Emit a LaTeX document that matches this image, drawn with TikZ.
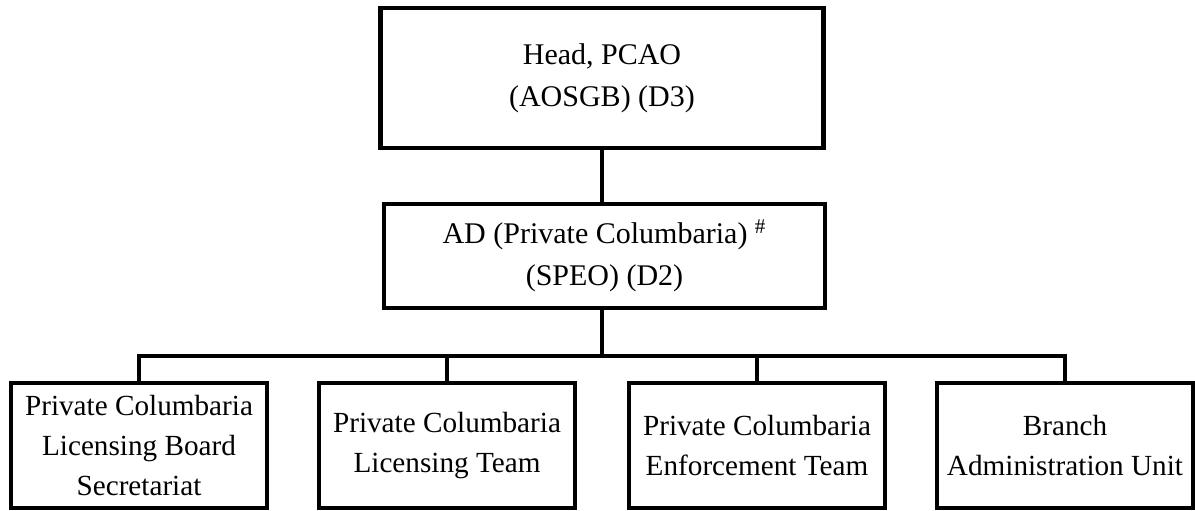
\documentclass[tikz,border=0pt]{standalone}
\usepackage{fontspec}
\setmainfont{Liberation Serif}
\usepackage{tikz}
\usetikzlibrary{positioning}

\begin{document}
\begin{tikzpicture}[
  x=0.5pt, y=-0.5pt,
  line width=2.25pt,
  line join=miter,
  every node/.style={
    draw,
    rectangle,
    align=center,
    line width=2.25pt,
    font=\fontsize{15}{21}\selectfont
  },
  unit/.style={
    minimum width=128pt,
    minimum height=62.5pt,
    font=\fontsize{14.6}{20}\selectfont
  }
]
\useasboundingbox (0,0) rectangle (1195,510);

\node[minimum width=221.5pt, minimum height=70pt] (head) at (602,78)
{Head, PCAO\\(AOSGB) (D3)};

\node[minimum width=220.5pt, minimum height=52pt] (ad) at (604.5,256)
{AD (Private Columbaria) \textsuperscript{\#}\\(SPEO) (D2)};

\node[unit] (b1) at (139,445.5) {Private Columbaria\\Licensing Board\\Secretariat};
\node[unit] (b2) at (447,445.5) {Private Columbaria\\Licensing Team};
\node[unit] (b3) at (757,445.5) {Private Columbaria\\Enforcement Team};
\node[unit] (b4) at (1065,445.5) {Branch\\Administration Unit};

\coordinate (bus) at (602,356);

\draw (head.south) -- (head.south |- ad.north);
\draw (head.south |- ad.south) -- (bus);
\foreach \b in {b1,b2,b3,b4}
  \draw (\b.north) |- (bus);

\end{tikzpicture}
\end{document}
